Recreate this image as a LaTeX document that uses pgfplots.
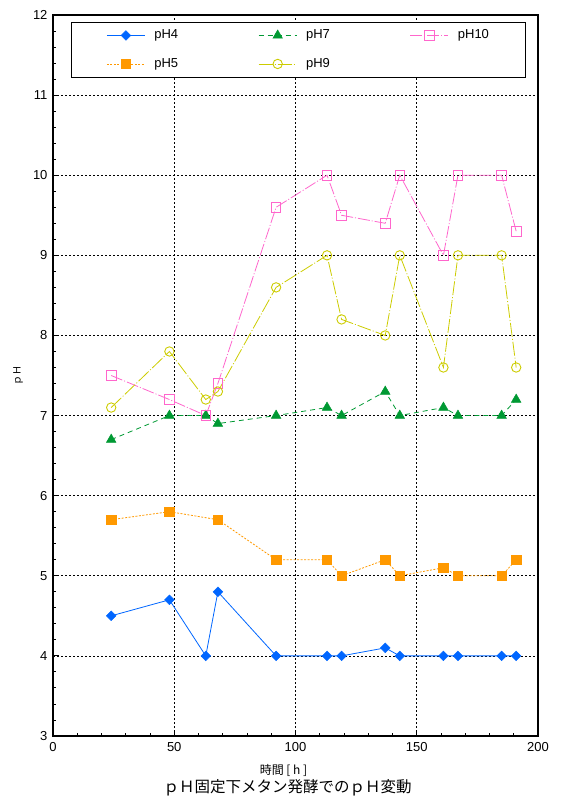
\documentclass[border=0pt]{standalone}
\usepackage{fontspec}
\setmainfont{Liberation Sans}
\newfontfamily\jp{Noto Sans CJK JP}
\usepackage{pgfplots}
\pgfplotsset{compat=1.18}
\definecolor{cfour}{HTML}{0066FF}
\definecolor{cfive}{HTML}{FF9900}
\definecolor{cseven}{HTML}{009933}
\definecolor{cnine}{HTML}{CCCC00}
\definecolor{cten}{HTML}{FF66CC}
\begin{document}
\begin{tikzpicture}[x=1pt,y=1pt]
\useasboundingbox (0,0) rectangle (567,812);
\begin{axis}[
  at={(53pt,76pt)}, anchor=south west,
  scale only axis, width=485pt, height=721pt,
  xmin=0, xmax=200, ymin=3, ymax=12,
  xtick={0,50,100,150,200}, ytick={3,4,5,6,7,8,9,10,11,12},
  minor x tick num=4, minor y tick num=4,
  grid=major,
  major grid style={black, line width=0.7pt, dash pattern=on 2pt off 2pt},
  axis line style={black, line width=1.5pt},
  tick align=inside, tick pos=left,
  major tick length=6pt, minor tick length=3pt,
  tick style={black, line width=0.9pt},
  ticklabel style={font=\fontsize{13}{15}\selectfont},
  /pgf/number format/assume math mode=true,
  xticklabel style={yshift=-3pt},
  yticklabel style={xshift=-2pt},
  legend columns=3,
  legend cell align=left,
  legend image code/.code={\draw[mark repeat=2,mark phase=2,#1] plot coordinates {(0pt,0pt) (19pt,0pt) (38pt,0pt)};},
  legend style={at={(0.0371,0.9907)}, anchor=north west, draw=black, line width=1pt, fill=white,
    inner xsep=35pt, inner ysep=7pt,
    nodes={inner sep=0pt, font=\fontsize{13}{15}\selectfont, text height=9.5pt, text depth=3pt},
    /tikz/every odd column/.style={column sep=9pt},
    /tikz/every even column/.style={column sep=24pt},
    row sep=16pt},
]
% pH4
\addplot[cfour, line width=0.8pt, solid, mark=square*, mark size=3.4pt, mark options={solid, fill=cfour, rotate=45, line width=0.5pt}]
coordinates {(24,4.5) (48,4.7) (63,4.0) (68,4.8) (92,4.0) (113,4.0) (119,4.0) (137,4.1) (143,4.0) (161,4.0) (167,4.0) (185,4.0) (191,4.0)};
\addlegendentry{\makebox[80pt][l]{pH4}}
% pH7
\addplot[cseven, line width=0.8pt, dash pattern=on 5pt off 4pt, mark=triangle*, mark size=5.5pt, mark options={solid, fill=cseven, line width=0.5pt}]
coordinates {(24,6.7) (48,7.0) (63,7.0) (68,6.9) (92,7.0) (113,7.1) (119,7.0) (137,7.3) (143,7.0) (161,7.1) (167,7.0) (185,7.0) (191,7.2)};
\addlegendentry{\makebox[80pt][l]{pH7}}
% pH10
\addplot[cten, line width=0.8pt, dash pattern=on 12pt off 2pt on 1pt off 2pt, mark=square, mark size=4.8pt, mark options={solid, line width=0.9pt}]
coordinates {(24,7.5) (48,7.2) (63,7.0) (68,7.4) (92,9.6) (113,10.0) (119,9.5) (137,9.4) (143,10.0) (161,9.0) (167,10.0) (185,10.0) (191,9.3)};
\addlegendentry{\makebox[33pt][l]{pH10}}
% pH5
\addplot[cfive, line width=0.8pt, dash pattern=on 2pt off 1.5pt, mark=square*, mark size=4.7pt, mark options={solid, fill=cfive, line width=0.5pt}]
coordinates {(24,5.7) (48,5.8) (68,5.7) (92,5.2) (113,5.2) (119,5.0) (137,5.2) (143,5.0) (161,5.1) (167,5.0) (185,5.0) (191,5.2)};
\addlegendentry{\makebox[80pt][l]{pH5}}
% pH9
\addplot[cnine, line width=0.8pt, dash pattern=on 14pt off 2pt on 1pt off 2pt, mark=o, mark size=4.7pt, mark options={solid, line width=0.9pt}]
coordinates {(24,7.1) (48,7.8) (63,7.2) (68,7.3) (92,8.6) (113,9.0) (119,8.2) (137,8.0) (143,9.0) (161,7.6) (167,9.0) (185,9.0) (191,7.6)};
\addlegendentry{\makebox[80pt][l]{pH9}}
\end{axis}
\node[rotate=90] at (18,436.5) {\jp\fontsize{10}{12}\selectfont ｐＨ};
\node at (283.5,42) {\jp\fontsize{12}{14}\selectfont 時間 [ h ]};
\node at (287.5,24) {\jp\fontsize{15.5}{18}\selectfont ｐＨ固定下メタン発酵でのｐＨ変動};
\end{tikzpicture}
\end{document}
